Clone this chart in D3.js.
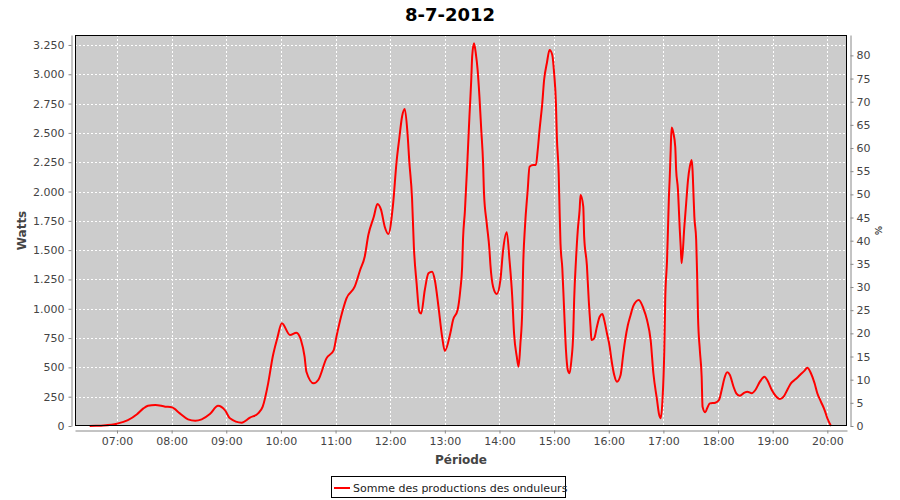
<!DOCTYPE html>
<html><head><meta charset="utf-8">
<script src="https://cdn.jsdelivr.net/npm/d3@7"></script>
<style>body{margin:0;background:#fff}svg{display:block}</style>
</head><body>
<svg id="c" width="900" height="500"></svg>
<script>
const title = "8-7-2012";
const seriesName = "Somme des productions des onduleurs";
const times = ["06:30","06:37","06:45","07:00","07:12","07:22","07:29","07:34","07:42","07:53","08:00","08:09","08:18","08:26","08:33","08:42","08:51","08:59","09:04","09:17","09:26","09:35","09:40","09:46","09:51","09:56","10:01","10:10","10:17","10:22","10:26","10:28","10:36","10:41","10:50","10:58","11:01","11:07","11:12","11:21","11:27","11:32","11:36","11:42","11:46","11:50","11:54","11:58","12:03","12:07","12:10","12:13","12:16","12:19","12:21","12:24","12:26","12:29","12:32","12:34","12:38","12:42","12:46","12:49","12:53","12:57","13:00","13:06","13:09","13:14","13:17","13:19","13:20","13:22","13:25","13:27","13:29","13:30","13:32","13:34","13:36","13:38","13:40","13:42","13:43","13:46","13:49","13:50","13:53","13:57","14:01","14:04","14:08","14:11","14:14","14:16","14:19","14:21","14:23","14:25","14:26","14:28","14:31","14:33","14:37","14:40","14:42","14:44","14:47","14:49","14:52","14:55","14:58","15:00","15:02","15:03","15:05","15:06","15:07","15:09","15:11","15:13","15:15","15:17","15:19","15:21","15:22","15:24","15:26","15:28","15:29","15:32","15:33","15:36","15:38","15:40","15:41","15:44","15:47","15:50","15:53","15:55","15:58","16:01","16:03","16:06","16:09","16:13","16:16","16:18","16:21","16:24","16:27","16:33","16:38","16:42","16:46","16:49","16:53","16:55","16:57","16:59","17:01","17:02","17:04","17:05","17:06","17:07","17:08","17:09","17:11","17:13","17:14","17:16","17:17","17:18","17:19","17:20","17:23","17:25","17:27","17:29","17:31","17:32","17:33","17:34","17:36","17:37","17:38","17:40","17:42","17:43","17:46","17:48","17:51","17:57","18:01","18:04","18:07","18:10","18:13","18:17","18:20","18:24","18:29","18:32","18:37","18:41","18:46","18:51","18:54","18:59","19:04","19:08","19:12","19:16","19:20","19:25","19:30","19:35","19:38","19:42","19:46","19:49","19:53","19:57","20:00","20:04"];
const watts = [0,2,5,20,50,100,150,173,180,165,160,108,57,45,57,102,173,130,66,28,71,108,165,364,591,748,876,776,796,733,591,463,364,392,577,648,762,961,1089,1188,1331,1444,1629,1785,1894,1843,1700,1638,1880,2254,2454,2638,2704,2497,2254,1942,1529,1217,975,960,1160,1302,1316,1245,1018,762,640,791,904,989,1160,1359,1600,1828,2297,2638,2951,3150,3264,3179,3037,2809,2525,2241,1985,1729,1501,1380,1188,1126,1245,1501,1652,1416,1103,791,591,506,706,989,1359,1700,2013,2212,2226,2226,2354,2525,2753,2951,3094,3207,3165,3009,2753,2468,2156,1843,1558,1345,989,648,478,450,563,791,1075,1416,1672,1843,1970,1871,1615,1370,1075,847,733,748,847,932,955,904,791,676,563,435,378,435,620,733,861,947,1024,1075,1004,904,733,450,222,108,66,222,648,1075,1416,1672,1942,2127,2354,2545,2497,2382,2184,2013,1843,1672,1529,1388,1700,1900,2098,2212,2269,2184,1985,1785,1587,1300,932,648,420,165,117,151,193,199,222,307,407,458,435,335,279,258,284,293,279,307,378,420,392,307,250,230,250,307,364,398,435,472,497,450,364,279,207,136,66,0];
const xTickLabels = ["07:00","08:00","09:00","10:00","11:00","12:00","13:00","14:00","15:00","16:00","17:00","18:00","19:00","20:00"];
const wattTicks = [0,250,500,750,1000,1250,1500,1750,2000,2250,2500,2750,3000,3250];
const pctTicks = [0,5,10,15,20,25,30,35,40,45,50,55,60,65,70,75,80];
const xRange = ["06:13.9","20:21.6"];
const wattMax = 3335;
const pctMax = 84.4;

const toMin = s => { const [h, m] = s.split(":").map(Number); return h * 60 + m; };
const data = times.map((t, i) => ({ t: toMin(t), v: watts[i] }));

const svg = d3.select("#c");
const L = 75, T = 35, R = 847, B = 426;
const FONT = "'DejaVu Sans', sans-serif";

const x = d3.scaleLinear().domain(xRange.map(toMin)).range([L, R]);
const y = d3.scaleLinear().domain([0, wattMax]).range([B, T]);
const yp = d3.scaleLinear().domain([0, pctMax]).range([B, T]);

// plot background
svg.append("rect").attr("x", L).attr("y", T).attr("width", R - L).attr("height", B - T).attr("fill", "#cccccc");

// grid
const g = svg.append("g");
g.selectAll("line.h").data(wattTicks).join("line")
  .attr("x1", L).attr("x2", R).attr("y1", d => Math.round(y(d)) + 0.5).attr("y2", d => Math.round(y(d)) + 0.5)
  .attr("stroke", "#fff").attr("stroke-dasharray", "2,2");
g.selectAll("line.v").data(xTickLabels).join("line")
  .attr("y1", T).attr("y2", B).attr("x1", d => Math.round(x(toMin(d))) + 0.5).attr("x2", d => Math.round(x(toMin(d))) + 0.5)
  .attr("stroke", "#fff").attr("stroke-dasharray", "2,2");

// series line
svg.append("path").datum(data)
  .attr("d", d3.line().x(d => x(d.t)).y(d => y(d.v)).curve(d3.curveMonotoneX))
  .attr("fill", "none").attr("stroke", "#ff0000").attr("stroke-width", 2).attr("stroke-linejoin", "round");

// plot outline
svg.append("rect").attr("x", L + 0.5).attr("y", T + 0.5).attr("width", R - L - 1).attr("height", B - T - 1)
  .attr("fill", "none").attr("stroke", "#000").attr("stroke-width", 1);

function styleAxis(sel) {
  sel.selectAll("path.domain").attr("stroke", "#888");
  sel.selectAll(".tick line").attr("stroke", "#888");
  sel.selectAll("text").attr("fill", "#444").style("font-family", FONT).style("font-size", "11px");
}

// left axis
const yAxis = d3.axisLeft(y).tickValues(wattTicks).tickSize(3).tickSizeOuter(0).tickPadding(4)
  .tickFormat(d => d3.format(",")(d).replace(/,/g, "."));
svg.append("g").attr("transform", "translate(71.5,0)").call(yAxis).call(styleAxis);

// right axis
const pAxis = d3.axisRight(yp).tickValues(pctTicks).tickSize(3).tickSizeOuter(0).tickPadding(3);
svg.append("g").attr("transform", "translate(850.5,0)").call(pAxis).call(styleAxis);

// bottom axis
const xAxis = d3.axisBottom(x).tickValues(xTickLabels.map(toMin)).tickSize(3).tickSizeOuter(0).tickPadding(4)
  .tickFormat((d, i) => xTickLabels[i]);
svg.append("g").attr("transform", "translate(0,430.5)").call(xAxis).call(styleAxis);

// title
svg.append("text").attr("x", 450).attr("y", 21).attr("text-anchor", "middle")
  .style("font-family", FONT).style("font-size", "18px").style("font-weight", "bold").attr("fill", "#000").text(title);

// axis labels
svg.append("text").attr("transform", `translate(25.5,${(T + B) / 2}) rotate(-90)`).attr("text-anchor", "middle")
  .style("font-family", FONT).style("font-size", "12px").style("font-weight", "bold").attr("fill", "#444").text("Watts");
svg.append("text").attr("transform", `translate(875,${(T + B) / 2}) rotate(90)`).attr("text-anchor", "middle")
  .style("font-family", FONT).style("font-size", "9px").style("font-weight", "bold").attr("fill", "#444").text("%");
svg.append("text").attr("x", (L + R) / 2).attr("y", 464).attr("text-anchor", "middle")
  .style("font-family", FONT).style("font-size", "12px").style("font-weight", "bold").attr("fill", "#444").text("Période");

// legend
const lg = svg.append("g");
lg.append("rect").attr("x", 331.5).attr("y", 476.5).attr("width", 234).attr("height", 21)
  .attr("fill", "#fff").attr("stroke", "#000");
lg.append("line").attr("x1", 334).attr("x2", 350).attr("y1", 488).attr("y2", 488).attr("stroke", "#ff0000").attr("stroke-width", 2);
lg.append("text").attr("x", 353).attr("y", 492).style("font-family", FONT).style("font-size", "11px")
  .attr("fill", "#222").text(seriesName);
</script>
</body></html>
